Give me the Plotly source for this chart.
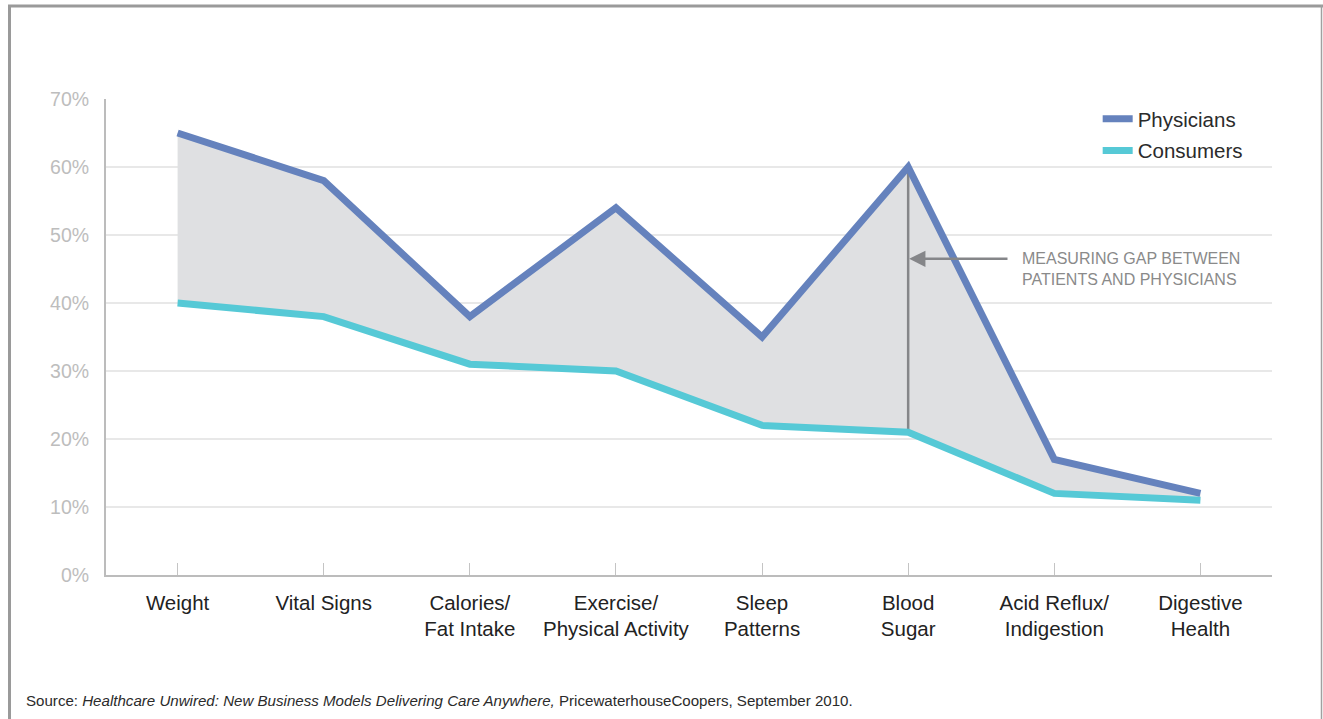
import plotly.graph_objects as go

# Share of respondents citing each health measure
categories = ["Weight", "Vital Signs", "Calories/<br>Fat Intake",
              "Exercise/<br>Physical Activity", "Sleep<br>Patterns",
              "Blood<br>Sugar", "Acid Reflux/<br>Indigestion", "Digestive<br>Health"]
physicians = [65, 58, 38, 54, 35, 60, 17, 12]
consumers = [40, 38, 31, 30, 22, 21, 12, 11]
y_ticks = [0, 10, 20, 30, 40, 50, 60, 70]
y_tick_labels = [f"{v}%" for v in y_ticks]

PHYS_COLOR = "#6582bd"
CONS_COLOR = "#56c9d6"
GAP_FILL = "#dfe0e2"
MARK_GRAY = "#858689"
FONT = "Liberation Sans, Helvetica Neue, Arial, sans-serif"

W, H = 1323, 719
ML, MR, MT, MB = 106, 51, 99, 144
PW, PH = W - ML - MR, H - MT - MB


def px_x(v):
    return (v - ML) / PW


def px_y(v):
    return (H - MB - v) / PH


x = list(range(len(categories)))
gap_idx = 5  # Blood Sugar
arrow_y = 46.5

fig = go.Figure()

# Shaded band between the two series
fig.add_trace(go.Scatter(x=x, y=consumers, mode="lines", line=dict(width=0),
                         showlegend=False, hoverinfo="skip"))
fig.add_trace(go.Scatter(x=x, y=physicians, mode="lines", line=dict(width=0),
                         fill="tonexty", fillcolor=GAP_FILL,
                         showlegend=False, hoverinfo="skip"))

# Vertical gap marker at Blood Sugar
fig.add_trace(go.Scatter(x=[x[gap_idx], x[gap_idx]],
                         y=[consumers[gap_idx], physicians[gap_idx]],
                         mode="lines", line=dict(color=MARK_GRAY, width=2.5),
                         showlegend=False, hoverinfo="skip"))

fig.add_trace(go.Scatter(x=x, y=consumers, mode="lines", name="Consumers",
                         legendgroup="c", legendrank=2,
                         line=dict(color=CONS_COLOR, width=7)))
fig.add_trace(go.Scatter(x=x, y=physicians, mode="lines", name="Physicians",
                         legendgroup="p", legendrank=1,
                         line=dict(color=PHYS_COLOR, width=7)))

fig.update_layout(
    width=W, height=H,
    margin=dict(l=ML, r=MR, t=MT, b=MB),
    paper_bgcolor="white", plot_bgcolor="white",
    font=dict(family=FONT),
    showlegend=True,
    legend=dict(x=0.8505, y=1.0, xanchor="left", yanchor="top",
                traceorder="grouped", bgcolor="rgba(0,0,0,0)",
                font=dict(size=20.5, color="#2b2b2b"),
                itemwidth=30, tracegroupgap=2),
    xaxis=dict(
        range=[-0.49, 7.49], tickmode="array", tickvals=x, ticktext=categories,
        showgrid=False, zeroline=False,
        showline=True, linecolor="#bcbcbc", linewidth=2,
        ticks="inside", ticklen=12, tickwidth=1, tickcolor="#c4c4c4",
        tickfont=dict(size=20.5, color="#222222"), ticklabelstandoff=8,
        fixedrange=True,
    ),
    yaxis=dict(
        range=[0, 70], tickmode="array", tickvals=y_ticks, ticktext=y_tick_labels,
        showgrid=True, gridcolor="#e8e8e8", gridwidth=1.5, zeroline=False,
        showline=True, linecolor="#bcbcbc", linewidth=2,
        ticks="", tickfont=dict(size=19.5, color="#bdbdbd"), ticklabelstandoff=11,
        fixedrange=True,
    ),
)

# Arrow pointing at the gap marker
fig.add_annotation(x=x[gap_idx], y=arrow_y, xref="x", yref="y",
                   ax=x[gap_idx] + 0.69, ay=arrow_y, axref="x", ayref="y",
                   text="", showarrow=True, arrowhead=2, arrowsize=1.3,
                   arrowwidth=2.5, arrowcolor=MARK_GRAY, standoff=1)
fig.add_annotation(x=x[gap_idx] + 0.765, y=arrow_y, xref="x", yref="y",
                   xanchor="left", yanchor="top", yshift=11, showarrow=False,
                   align="left",
                   text="MEASURING GAP BETWEEN<br>PATIENTS AND PHYSICIANS",
                   font=dict(size=16, color="#8a8a8a", family=FONT))

# Source note
fig.add_annotation(x=px_x(24), y=px_y(700), xref="paper", yref="paper",
                   showarrow=False, xanchor="left", yanchor="middle",
                   text=("Source: <i>Healthcare Unwired: New Business Models Delivering "
                         "Care Anywhere,</i> PricewaterhouseCoopers, September 2010."),
                   font=dict(size=15.1, color="#2b2b2b",
                             family="Liberation Sans Narrow, Arial Narrow, Liberation Sans, sans-serif"))

# Outer frame
fig.add_shape(type="line", xref="paper", yref="paper",
              x0=px_x(9.5), x1=px_x(9.5), y0=px_y(5), y1=px_y(H),
              line=dict(color="#9a9a9a", width=3))
fig.add_shape(type="line", xref="paper", yref="paper",
              x0=px_x(8), x1=px_x(W), y0=px_y(6), y1=px_y(6),
              line=dict(color="#9a9a9a", width=3))
fig.add_shape(type="line", xref="paper", yref="paper",
              x0=px_x(1321.5), x1=px_x(1321.5), y0=px_y(5), y1=px_y(H),
              line=dict(color="#a0a0a0", width=1.5))

fig.write_html("out.html")
